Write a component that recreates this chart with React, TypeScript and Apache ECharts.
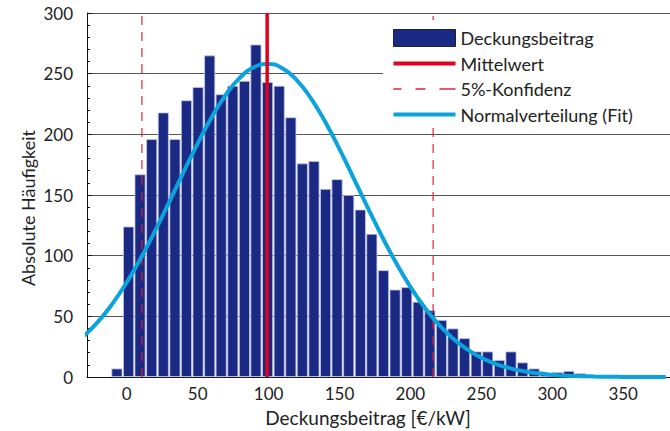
import React, { useEffect, useRef } from "react";
import * as echarts from "echarts";

const binCenters = [-6.9, 1.3, 9.4, 17.6, 25.8, 34.0, 42.1, 50.3, 58.5, 66.6, 74.8, 83.0, 91.1, 99.3, 107.5, 115.7, 123.8, 132.0, 140.2, 148.3, 156.5, 164.7, 172.8, 181.0, 189.2, 197.4, 205.5, 213.7, 221.9, 230.0, 238.2, 246.4, 254.5, 262.7, 270.9, 279.1, 287.2, 295.4, 303.6, 311.7, 319.9, 328.1, 336.2, 344.4];
const counts = [7, 124, 167, 196, 218, 196, 228, 239, 265, 233, 240, 244, 274, 243, 240, 214, 176, 178, 155, 163, 150, 138, 118, 88, 72, 74, 62, 55, 47, 40, 32, 21, 21, 14, 21, 12, 7, 3, 4, 5, 3, 1, 0, 1];

const fitX = [-30, -20, -10, 0, 10, 20, 30, 40, 50, 60, 70, 80, 90, 100, 110, 120, 130, 140, 150, 160, 170, 180, 190, 200, 210, 220, 230, 240, 250, 260, 270, 280, 290, 300, 310, 320, 330, 340, 350, 360, 370, 380];
const fitY = [33.9, 45.8, 60.5, 78.0, 98.1, 120.4, 144.3, 168.7, 192.4, 214.3, 232.8, 246.9, 255.5, 258.0, 254.2, 244.5, 229.4, 210.1, 187.8, 163.8, 139.4, 115.8, 93.9, 74.3, 57.3, 43.2, 31.8, 22.8, 15.9, 10.9, 7.3, 4.7, 3.0, 1.9, 1.1, 0.7, 0.4, 0.2, 0.1, 0.05, 0.02, 0.0];

const meanValue = 99;
const confidenceLow = 10.7;
const confidenceHigh = 216;

const xTickLabels = [0, 50, 100, 150, 200, 250, 300, 350];
const yMin = 0;
const yMax = 300;

const FONT = "Lato, 'DejaVu Sans', sans-serif";

const ICON_SOLID = "path://M0,0h62v4h-62z";
const ICON_DASHED = "path://M0,0h8v1.5h-8z M22,0h10v1.5h-10z M46,0h16v1.5h-16z";

export default function App() {
  const ref = useRef<HTMLDivElement>(null);
  useEffect(() => {
    if (!ref.current) return;
    const chart = echarts.init(ref.current, null, { renderer: "svg" });
    const vline = (x: number) => [
      [x, yMin],
      [x, yMax],
    ];
    chart.setOption({
      animation: false,
      textStyle: { fontFamily: FONT },
      grid: { left: 87, top: 13, right: 0, bottom: 54 },
      xAxis: {
        type: "value",
        min: -28,
        max: 383,
        axisLine: { show: true, onZero: false, lineStyle: { color: "#111", width: 1 } },
        axisTick: { show: false },
        splitLine: { show: false },
        axisLabel: {
          customValues: xTickLabels,
          fontSize: 17,
          lineHeight: 17,
          color: "#222",
          margin: 8,
          fontFamily: FONT,
        },
      },
      yAxis: {
        type: "value",
        min: yMin,
        max: yMax,
        interval: 50,
        axisLine: { show: true, onZero: false, lineStyle: { color: "#111", width: 1 } },
        axisTick: { show: true, inside: true, length: 5, lineStyle: { color: "#111" } },
        minorTick: { show: true, splitNumber: 5, length: 3, lineStyle: { color: "#111" } },
        splitLine: { show: true, lineStyle: { color: "#555", width: 1 } },
        axisLabel: { fontSize: 17, color: "#222", margin: 14, fontFamily: FONT },
      },
      legend: {
        orient: "vertical",
        left: 388,
        top: 24,
        padding: 5,
        z: 20,
        itemWidth: 62,
        itemHeight: 17,
        itemGap: 7.5,
        symbolKeepAspect: true,
        textStyle: { fontSize: 18, color: "#222", lineHeight: 17, fontFamily: FONT },
        data: [
          { name: "Deckungsbeitrag", icon: "rect", itemStyle: { color: "#1a2a84", borderColor: "#222", borderWidth: 1 } },
          { name: "Mittelwert", icon: ICON_SOLID, itemStyle: { color: "#e3001b", borderWidth: 0 } },
          { name: "5%-Konfidenz", icon: ICON_DASHED, itemStyle: { color: "#d92440", borderWidth: 0 } },
          { name: "Normalverteilung (Fit)", icon: ICON_SOLID, itemStyle: { color: "#0ba3dd", borderWidth: 0 } },
        ],
      },
      graphic: [
        {
          type: "rect",
          z: 10,
          shape: { x: 383, y: 20, width: 300, height: 106 },
          style: { fill: "#fff" },
        },
        {
          type: "text",
          x: 28,
          y: 208,
          rotation: Math.PI / 2,
          style: {
            text: "Absolute Häufigkeit",
            fontSize: 18,
            fontFamily: FONT,
            fill: "#222",
            textAlign: "center",
            textVerticalAlign: "middle",
          },
        },
        {
          type: "text",
          x: 368,
          y: 417,
          style: {
            text: "Deckungsbeitrag [€/kW]",
            fontSize: 19,
            lineHeight: 19,
            fontFamily: FONT,
            fill: "#222",
            textAlign: "center",
            textVerticalAlign: "middle",
          },
        },
      ],
      series: [
        {
          name: "Deckungsbeitrag",
          type: "bar",
          barWidth: 11,
          z: 2,
          itemStyle: { color: "#1a2a84", borderColor: "#c3c6e3", borderWidth: 0.8 },
          data: binCenters.map((c, i) => [c, counts[i]]),
        },
        {
          name: "5%-Konfidenz",
          type: "line",
          z: 3,
          symbol: "none",
          itemStyle: { color: "#d92440" },
          lineStyle: { color: "#d92440", width: 1.2, type: [9, 7] },
          data: vline(confidenceLow),
        },
        {
          name: "5%-Konfidenz",
          type: "line",
          z: 3,
          symbol: "none",
          itemStyle: { color: "#d92440" },
          lineStyle: { color: "#d92440", width: 1.2, type: [9, 7] },
          data: vline(confidenceHigh),
        },
        {
          name: "Normalverteilung (Fit)",
          type: "line",
          z: 4,
          symbol: "none",
          smooth: true,
          itemStyle: { color: "#0ba3dd" },
          lineStyle: { color: "#0ba3dd", width: 4 },
          data: fitX.map((x, i) => [x, fitY[i]]),
        },
        {
          name: "Mittelwert",
          type: "line",
          z: 5,
          symbol: "none",
          itemStyle: { color: "#e3001b" },
          lineStyle: { color: "#e3001b", width: 3.5 },
          data: vline(meanValue),
        },
      ],
    });
    return () => chart.dispose();
  }, []);
  return <div ref={ref} style={{ width: 670, height: 431, position: "absolute", left: 0, top: 0 }} />;
}
